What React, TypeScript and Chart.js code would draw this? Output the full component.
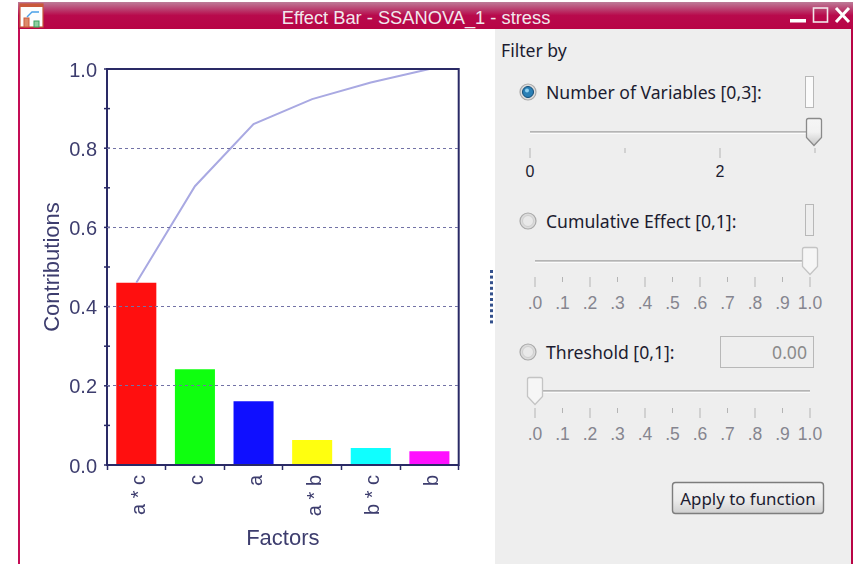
import React, { useEffect, useRef } from "react";
import { Chart, registerables } from "chart.js";

Chart.register(...registerables);

const factors = ["a * c", "c", "a", "a * b", "b * c", "b"];
const contributions = [0.46, 0.242, 0.161, 0.063, 0.043, 0.035];
const cumulative = [0.46, 0.704, 0.861, 0.924, 0.966, 1.0];
const barColors = ["#ff0f0f", "#0fff0f", "#0f0fff", "#ffff0f", "#0fffff", "#ff0fff"];
const effectTicks = [".0", ".1", ".2", ".3", ".4", ".5", ".6", ".7", ".8", ".9", "1.0"];
const variableTicks = ["0", "", "2", ""];

const NAVY = "#2a2a66";
const INK = "#3d3d6e";
const UI_FONT = "'Noto Sans', 'Open Sans', sans-serif";

const framePlugin = {
  id: "frame",
  afterDatasetsDraw(chart: any) {
    const { ctx, chartArea: a, scales } = chart;
    ctx.save();
    ctx.strokeStyle = NAVY;
    ctx.lineWidth = 2;
    ctx.strokeRect(a.left, a.top, a.right - a.left, a.bottom - a.top);
    ctx.lineWidth = 1.5;
    scales.y.ticks.forEach((t: any) => {
      const y = scales.y.getPixelForValue(t.value);
      ctx.beginPath();
      ctx.moveTo(a.left - 3, y);
      ctx.lineTo(a.left + 3, y);
      ctx.stroke();
    });
    ctx.restore();
  },
};

function ChartPanel() {
  const ref = useRef<HTMLCanvasElement>(null);
  useEffect(() => {
    if (!ref.current) return;
    const isMajorInner = (v: number) => {
      const k = Math.round(v * 10);
      return k % 2 === 0 && k !== 0 && k !== 10;
    };
    const chart = new Chart(ref.current, {
      type: "bar",
      data: {
        labels: factors,
        datasets: [
          {
            type: "line",
            data: cumulative,
            borderColor: "#a9a9e2",
            borderWidth: 2,
            pointRadius: 0,
            tension: 0,
            order: 0,
          },
          {
            type: "bar",
            data: contributions,
            backgroundColor: barColors,
            barPercentage: 0.683,
            categoryPercentage: 1,
            order: 1,
          },
        ],
      } as any,
      plugins: [framePlugin as any],
      options: {
        animation: false,
        responsive: false,
        layout: { padding: { top: 39, right: 36.3, left: 0, bottom: 0 } },
        plugins: { legend: { display: false }, tooltip: { enabled: false } },
        scales: {
          x: {
            afterFit: (s: any) => {
              s.height = 99;
            },
            grid: { display: true, drawOnChartArea: false, tickLength: 5, tickColor: NAVY, tickWidth: 1.5 },
            border: { display: false },
            ticks: {
              color: INK,
              font: { family: "'Liberation Sans'", size: 20 },
              minRotation: 90,
              maxRotation: 90,
              padding: 5,
              labelOffset: 3,
              autoSkip: false,
            },
            title: {
              display: true,
              text: "Factors",
              color: INK,
              font: { family: "'Liberation Sans'", size: 22 },
              padding: { top: 0, bottom: 12 },
            },
          },
          y: {
            min: 0,
            max: 1,
            afterFit: (s: any) => {
              s.width = 87;
            },
            border: { display: false, dash: [3, 3] },
            grid: {
              z: 1,
              lineWidth: 1,
              drawTicks: true,
              tickLength: 4,
              tickColor: "rgba(0,0,0,0)",
              color: (c: any) => (isMajorInner(c.tick.value) ? "#7272a6" : "rgba(0,0,0,0)"),
            },
            ticks: {
              stepSize: 0.1,
              autoSkip: false,
              padding: 6,
              labelOffset: 2,
              color: INK,
              font: { family: "'Liberation Sans'", size: 20 },
              callback: (v: any) => (Math.round(Number(v) * 10) % 2 === 0 ? Number(v).toFixed(1) : ""),
            },
            title: {
              display: true,
              text: "Contributions",
              color: INK,
              font: { family: "'Liberation Sans'", size: 22 },
              padding: { top: 20, bottom: 0 },
            },
          },
        },
      },
    });
    return () => chart.destroy();
  }, []);
  return (
    <canvas
      ref={ref}
      width={475}
      height={534}
      style={{ position: "absolute", left: 20, top: 30, width: 475, height: 534, display: "block" }}
    />
  );
}

const Txt = ({ x, y, children, color = "#1c1c30", size = 17.6, anchor = "start", font = UI_FONT, sp = 0 }: any) => (
  <text x={x} y={y} fill={color} fontSize={size} textAnchor={anchor} fontFamily={font} letterSpacing={sp} dominantBaseline="central">
    {children}
  </text>
);

const Radio = ({ cx, cy, on }: any) => (
  <g>
    <circle cx={cx} cy={cy} r={8} fill="#dcdcdc" stroke="#a9a9a9" strokeWidth={1.2} />
    <circle cx={cx} cy={cy} r={5.5} fill={on ? "#2a7fb5" : "#e9e9e9"} stroke={on ? "#124d78" : "#cfcfcf"} />
    {on ? <circle cx={cx - 1} cy={cy - 1.5} r={2} fill="#8fd0f0" /> : null}
  </g>
);

const Thumb = ({ x, y, dark }: any) => (
  <path
    d={`M${x - 7.5} ${y - 11.5} q0 -2 2 -2 h11 q2 0 2 2 v17 l-7.5 8 l-7.5 -8 z`}
    fill={dark ? "url(#thumbDark)" : "#f6f6f6"}
    stroke={dark ? "#8a8a8a" : "#c4c4c4"}
    strokeWidth={1.3}
  />
);

function Slider({ x0, x1, y, labels, labelColor, labelSize, stepCount, tickLabelY, thumbX, tickTop = 16, dark }: any) {
  const ticks = [];
  for (let i = 0; i <= stepCount; i++) {
    const tx = x0 + ((x1 - x0) * i) / stepCount;
    ticks.push(
      <line key={i} x1={tx} x2={tx} y1={y + tickTop} y2={y + tickTop + (i % 2 === 0 ? 10 : 5)} stroke="#b4b4b4" strokeWidth={1} />
    );
    if (labels[i]) {
      ticks.push(
        <Txt key={"l" + i} x={tx} y={tickLabelY} color={labelColor} size={labelSize} anchor="middle" font="'Liberation Sans'">
          {labels[i]}
        </Txt>
      );
    }
  }
  return (
    <g>
      <rect x={x0} y={y - 1} width={x1 - x0} height={1.6} fill="#b4b4b4" />
      <rect x={x0} y={y + 1} width={x1 - x0} height={1} fill="#fbfbfb" />
      {ticks}
      <Thumb x={thumbX} y={y} dark={dark} />
    </g>
  );
}

function Controls() {
  return (
    <svg width={856} height={564} style={{ position: "absolute", left: 0, top: 0 }}>
      <defs>
        <linearGradient id="tb" x1="0" y1="0" x2="0" y2="1">
          <stop offset="0" stopColor="#bd7c98" />
          <stop offset="0.5" stopColor="#b80a4c" />
          <stop offset="1" stopColor="#b80445" />
        </linearGradient>
        <linearGradient id="thumbDark" x1="0" y1="0" x2="0" y2="1">
          <stop offset="0" stopColor="#f6f6f6" />
          <stop offset="0.5" stopColor="#f2f2f2" />
          <stop offset="1" stopColor="#c8c8c8" />
        </linearGradient>
        <linearGradient id="btn" x1="0" y1="0" x2="0" y2="1">
          <stop offset="0" stopColor="#f4f4f4" />
          <stop offset="0.55" stopColor="#ececec" />
          <stop offset="1" stopColor="#cfcfcf" />
        </linearGradient>
      </defs>
      <rect x={18} y={2} width={835} height={27} fill="url(#tb)" />
      <rect x={18} y={29} width={2} height={535} fill="#c40d55" />
      <rect x={851} y={29} width={2} height={535} fill="#b80445" />
      {/* icon */}
      <rect x={20} y={4} width={23} height={23} fill="#fdfdfd" stroke="#c9583a" strokeWidth={1.2} />
      <rect x={20} y={4} width={23} height={3} fill="#c9583a" />
      <rect x={24} y={18} width={5} height={9} fill="#dd8a6a" stroke="#c9583a" />
      <rect x={34} y={21} width={5} height={6} fill="#8fd0a0" stroke="#3aa060" />
      <path d="M27 17 L32 12 H39" fill="none" stroke="#4aa0e8" strokeWidth={1.4} />
      <Txt x={416} y={17} color="#f1e7ec" size={18.3} anchor="middle" font="'Liberation Sans'">
        Effect Bar - SSANOVA_1 - stress
      </Txt>
      {/* window buttons */}
      <rect x={790} y={19} width={16} height={3.5} fill="#ffffff" />
      <rect x={813.5} y={8} width={14} height={14} fill="none" stroke="#f2e6ea" strokeWidth={1.6} />
      <path d="M836 8 L849 22 M849 8 L836 22" stroke="#ffffff" strokeWidth={3} />

      {/* panel */}
      <rect x={495} y={29} width={356} height={535} fill="#eeeeee" />
      {/* splitter */}
      {Array.from({ length: 10 }, (_, i) => (
        <rect key={i} x={490} y={270 + i * 5.6} width={3} height={3} fill="#33508c" />
      ))}

      <Txt x={501} y={50}>Filter by</Txt>

      <Radio cx={528} cy={92} on />
      <Txt x={546} y={92}>Number of Variables [0,3]:</Txt>
      <rect x={805.5} y={76.5} width={8} height={31} fill="#fbfbfb" stroke="#b8b8b8" />
      <Slider x0={530} x1={815} y={132} labels={variableTicks} labelColor="#1c1c30" labelSize={16} stepCount={3} tickLabelY={171} thumbX={814} dark />

      <Radio cx={528} cy={221} />
      <Txt x={546} y={221}>Cumulative Effect [0,1]:</Txt>
      <rect x={805.5} y={204.5} width={8} height={31} fill="#eeeeee" stroke="#b8b8b8" />
      <Slider x0={535} x1={810} y={261} labels={effectTicks} labelColor="#85858f" labelSize={17.5} stepCount={10} tickLabelY={303} thumbX={810} />

      <Radio cx={528} cy={352} />
      <Txt x={546} y={352}>Threshold [0,1]:</Txt>
      <rect x={720.5} y={336.5} width={93} height={31} fill="#eeeeee" stroke="#b8b8b8" />
      <Txt x={807} y={352} color="#8a8a8a" anchor="end">0.00</Txt>
      <Slider x0={535} x1={810} y={391} labels={effectTicks} labelColor="#85858f" labelSize={17.5} stepCount={10} tickLabelY={434} thumbX={535} tickTop={17} />

      <rect x={672.5} y={482.5} width={151} height={31} rx={3} fill="url(#btn)" stroke="#7d7d7d" strokeWidth={1.4} />
      <Txt x={748} y={498} anchor="middle" size={16.9}>Apply to function</Txt>
    </svg>
  );
}

export default function App() {
  return (
    <div style={{ position: "fixed", left: 0, top: 0, width: 856, height: 564, background: "#ffffff", overflow: "hidden", filter: "blur(0.4px)" }}>
      <Controls />
      <ChartPanel />
    </div>
  );
}
